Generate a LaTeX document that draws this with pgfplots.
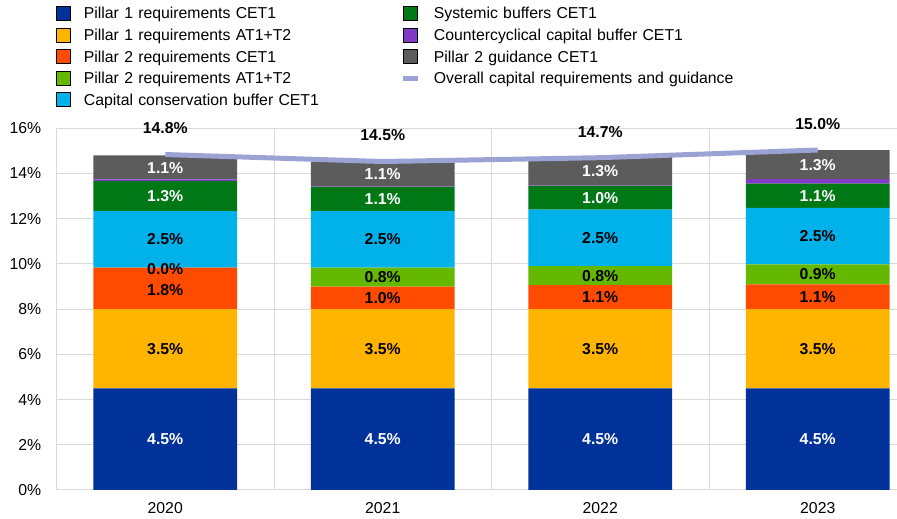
\documentclass[border=0pt]{standalone}
\usepackage{fontspec}
\setmainfont{Liberation Sans}
\usepackage{pgfplots}
\pgfplotsset{compat=1.18}
\definecolor{c1}{HTML}{003299}
\definecolor{c2}{HTML}{FFB400}
\definecolor{c3}{HTML}{FF4B00}
\definecolor{c4}{HTML}{65B800}
\definecolor{c5}{HTML}{00B1EA}
\definecolor{c6}{HTML}{007816}
\definecolor{c7}{HTML}{8139C6}
\definecolor{c8}{HTML}{5C5C5C}
\definecolor{lc}{RGB}{155,163,212}
\definecolor{gridc}{HTML}{D9D9D9}
\pgfplotsset{
  sqlegend/.style={legend image code/.code={\fill[##1] (0pt,-7pt) rectangle (14pt,7pt);}},
  linelegend/.style={legend image code/.code={\draw[##1] (0pt,0pt) -- (15pt,0pt);}},
  lab/.style={sharp plot, draw=none, mark=none,
    nodes near coords, point meta=explicit symbolic, nodes near coords align=center,
    every node near coord/.append style={anchor=center, inner sep=0pt, font=\bfseries, text=#1}},
  geom/.style={at={(56.5pt,29pt)}, anchor=south west,
    scale only axis, width=840.5pt, height=361.7pt,
    xmin=-0.5, xmax=3.3644, ymin=0, ymax=16, clip=false},
}
\begin{document}
\fontsize{15.8}{19}\selectfont%
\begin{tikzpicture}
\useasboundingbox (0,0) rectangle (897pt,519pt);
\begin{axis}[
  geom,
  ybar stacked, bar width=0.662,
  xtick={0,1,2,3}, xticklabels={2020,2021,2022,2023},
  minor xtick={-0.5,0.5,1.5,2.5},
  ytick={0,2,4,6,8,10,12,14,16},
  yticklabels={0\%,2\%,4\%,6\%,8\%,10\%,12\%,14\%,16\%},
  xminorgrids=true, ymajorgrids=true, xmajorgrids=false,
  grid style={gridc, line width=1pt},
  minor grid style={gridc, line width=1pt},
  major tick length=0pt, minor tick length=0pt,
  axis line style={draw=none},
  yticklabel style={inner sep=0pt, xshift=-15pt},
  xticklabel style={inner sep=0pt, anchor=north, yshift=-12.5pt},
  legend columns=2,
  legend cell align=left,
  legend style={draw=none, fill=none, inner sep=0pt, outer sep=0pt,
    at={(0,1.3381)}, anchor=north west,
    column sep=13pt, row sep=7.2pt,
    nodes={inner sep=0pt, text width=304pt, align=left, text height=11.3pt, text depth=0pt}},
]
% stacked bars
\addplot[fill=c1, draw=none, forget plot] coordinates {(0,4.5) (1,4.5) (2,4.5) (3,4.5)};
\addplot[fill=c2, draw=none, forget plot] coordinates {(0,3.5) (1,3.5) (2,3.5) (3,3.5)};
\addplot[fill=c3, draw=none, forget plot] coordinates {(0,1.84) (1,1.0) (2,1.06) (3,1.1)};
\addplot[fill=c4, draw=none, forget plot] coordinates {(0,0.0) (1,0.84) (2,0.84) (3,0.88)};
\addplot[fill=c5, draw=none, forget plot] coordinates {(0,2.5) (1,2.5) (2,2.5) (3,2.5)};
\addplot[fill=c6, draw=none, forget plot] coordinates {(0,1.32) (1,1.06) (2,1.04) (3,1.07)};
\addplot[fill=c7, draw=none, forget plot] coordinates {(0,0.08) (1,0.02) (2,0.02) (3,0.2)};
\addplot[fill=c8, draw=none, forget plot] coordinates {(0,1.06) (1,1.1) (2,1.26) (3,1.28)};
% legend (row-wise order for two columns)
\addlegendimage{sqlegend, fill=c1}\addlegendentry{Pillar 1 requirements CET1}
\addlegendimage{sqlegend, fill=c6}\addlegendentry{Systemic buffers CET1}
\addlegendimage{sqlegend, fill=c2}\addlegendentry{Pillar 1 requirements AT1+T2}
\addlegendimage{sqlegend, fill=c7}\addlegendentry{Countercyclical capital buffer CET1}
\addlegendimage{sqlegend, fill=c3}\addlegendentry{Pillar 2 requirements CET1}
\addlegendimage{sqlegend, fill=c8}\addlegendentry{Pillar 2 guidance CET1}
\addlegendimage{sqlegend, fill=c4}\addlegendentry{Pillar 2 requirements AT1+T2}
\addlegendimage{linelegend, color=lc, line width=5pt}\addlegendentry{Overall capital requirements and guidance}
\addlegendimage{sqlegend, fill=c5}\addlegendentry{Capital conservation buffer CET1}
\end{axis}
\begin{axis}[geom, hide axis]
% overall line
\addplot[sharp plot, color=lc, line width=5pt, mark=none,
  nodes near coords, point meta=explicit symbolic, nodes near coords align=center,
  every node near coord/.append style={anchor=center, inner sep=0pt, yshift=26pt, font=\bfseries, text=black}]
  coordinates {(0,14.84) [14.8\%] (1,14.53) [14.5\%] (2,14.70) [14.7\%] (3,15.04) [15.0\%]};
% segment labels
\addplot[lab=white] coordinates {
  (0,2.25) [4.5\%] (1,2.25) [4.5\%] (2,2.25) [4.5\%] (3,2.25) [4.5\%]
  (0,12.98) [1.3\%] (1,12.87) [1.1\%] (2,12.92) [1.0\%] (3,13.0) [1.1\%]
  (0,14.22) [1.1\%] (1,13.97) [1.1\%] (2,14.09) [1.3\%] (3,14.39) [1.3\%]
};
\addplot[lab=black] coordinates {
  (0,6.25) [3.5\%] (1,6.25) [3.5\%] (2,6.25) [3.5\%] (3,6.25) [3.5\%]
  (0,8.86) [1.8\%] (1,8.5) [1.0\%] (2,8.53) [1.1\%] (3,8.55) [1.1\%]
  (0,9.78) [0.0\%] (1,9.42) [0.8\%] (2,9.48) [0.8\%] (3,9.54) [0.9\%]
  (0,11.09) [2.5\%] (1,11.09) [2.5\%] (2,11.15) [2.5\%] (3,11.23) [2.5\%]
};
\end{axis}
\end{tikzpicture}
\end{document}
